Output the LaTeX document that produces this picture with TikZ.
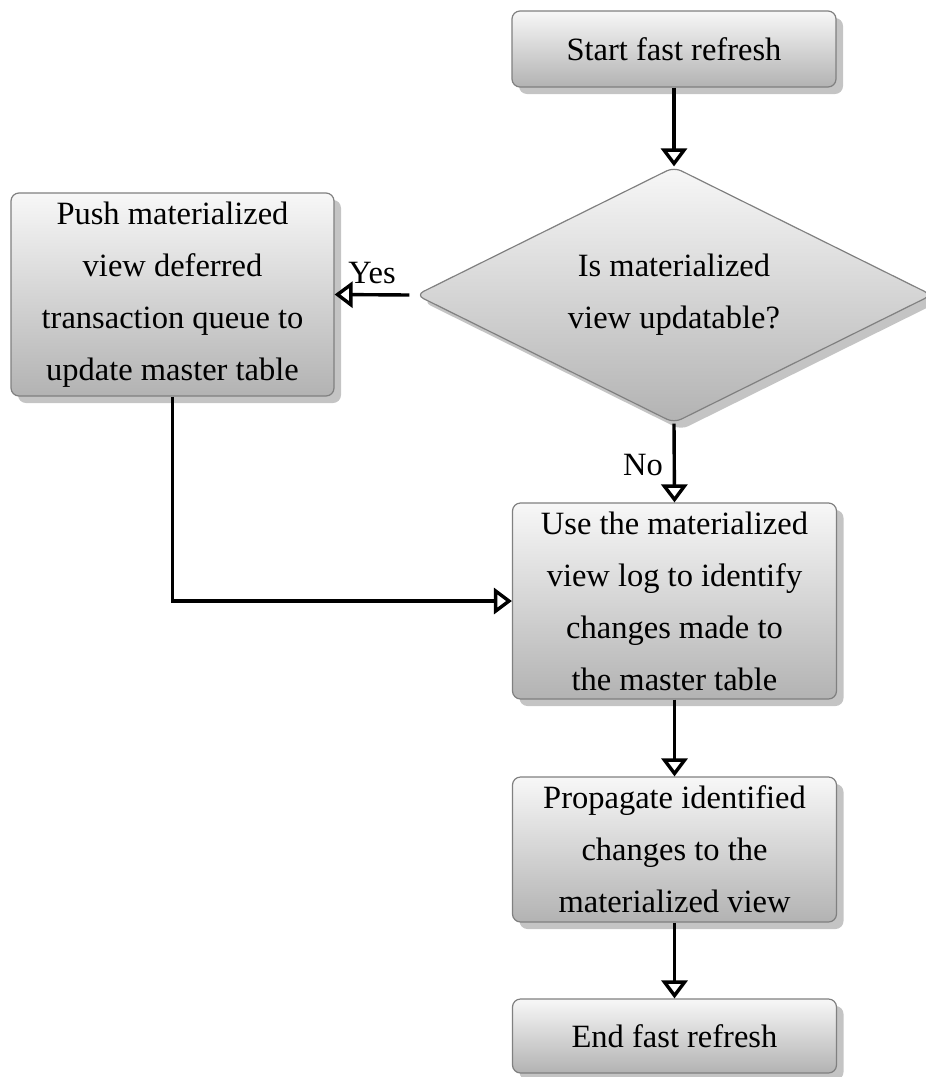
\documentclass[tikz,border=0pt]{standalone}
\usepackage{fontspec}
\setmainfont{Liberation Serif}
\usetikzlibrary{arrows.meta,shapes.geometric,shadows}

\begin{document}
\begin{tikzpicture}[x=0.5pt,y=-0.5pt,
  font=\fontsize{16.25pt}{26pt}\selectfont,
  boxshade/.style={top color=black!3, bottom color=black!30, draw=black!50, line width=0.6pt,
    drop shadow={shadow xshift=3.5pt, shadow yshift=-3.5pt, fill=black!23, opacity=1}},
  procbox/.style={boxshade, rectangle, rounded corners=4pt, inner sep=0pt, align=center,
    minimum width=162pt},
  decbox/.style={boxshade, diamond, shape aspect=2, rounded corners=4pt, inner sep=0pt,
    align=center, minimum width=258pt, minimum height=128pt},
  flow/.style={line width=1.7pt, -{Triangle[open, length=9pt, width=13pt]}},
  lbl/.style={inner sep=0pt}
]
\useasboundingbox (0,0) rectangle (926,1077);

% process steps and the decision
\node[procbox, minimum height=38pt] (startbox) at (674,49) {Start fast refresh};
\node[decbox] (dec) at (674,295) {Is materialized\\view updatable?};
\node[procbox, minimum width=161.5pt, minimum height=101.5pt] (push) at (172.5,294.5)
  {Push materialized\\view deferred\\transaction queue to\\update master table};
\node[procbox, minimum height=98pt] (use) at (674.5,601)
  {Use the materialized\\view log to identify\\changes made to\\the master table};
\node[procbox, minimum height=72.5pt] (prop) at (674.5,849.5)
  {Propagate identified\\changes to the\\materialized view};
\node[procbox, minimum height=37pt] (endbox) at (674.5,1036) {End fast refresh};

% connectors
\draw[flow] (startbox.south) -- (dec.north);
\draw[flow] ([xshift=-3pt]dec.west) -- (push.east);
\draw[flow] (dec.south) -- (use.north);
\draw[flow] (push.south) |- (use.west);
\draw[flow] (use.south) -- (prop.north);
\draw[flow] (prop.south) -- (endbox.north);

% branch labels
\node[lbl] (yes) at (372,273) {Yes};
\node[lbl] (no) at (643,465) {No};
\end{tikzpicture}
\end{document}
